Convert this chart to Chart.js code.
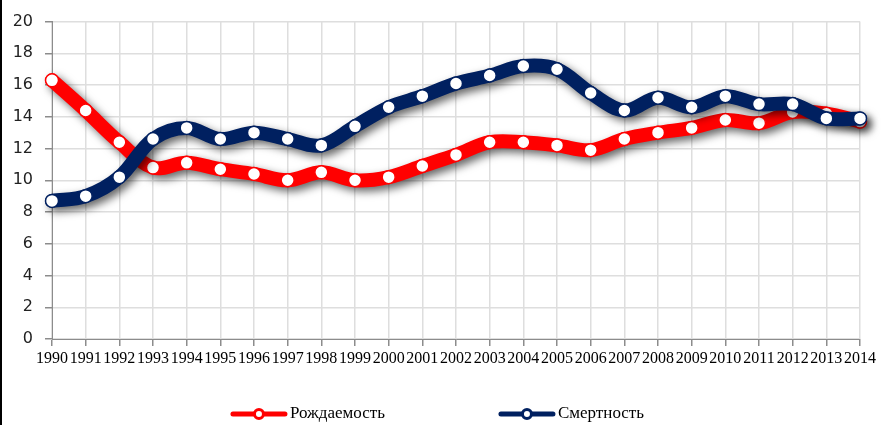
<!DOCTYPE html>
<html>
<head>
<meta charset="utf-8">
<script src="https://cdn.jsdelivr.net/npm/chart.js@4.4.1/dist/chart.umd.min.js"></script>
<style>
  html, body { margin: 0; padding: 0; background: #fff; }
  #wrap { width: 881px; height: 425px; }
</style>
</head>
<body>
<div id="wrap"><canvas id="rateChart" width="881" height="425"></canvas></div>
<script>
const years = ["1990", "1991", "1992", "1993", "1994", "1995", "1996", "1997", "1998", "1999",
  "2000", "2001", "2002", "2003", "2004", "2005", "2006", "2007", "2008", "2009",
  "2010", "2011", "2012", "2013", "2014"];
const birthRate = [16.3, 14.4, 12.4, 10.8, 11.1, 10.7, 10.4, 10.0, 10.5, 10.0,
  10.2, 10.9, 11.6, 12.4, 12.4, 12.2, 11.9, 12.6, 13.0, 13.3,
  13.8, 13.6, 14.3, 14.2, 13.7];
const deathRate = [8.7, 9.0, 10.2, 12.6, 13.3, 12.6, 13.0, 12.6, 12.2, 13.4,
  14.6, 15.3, 16.1, 16.6, 17.2, 17.0, 15.5, 14.4, 15.2, 14.6,
  15.3, 14.8, 14.8, 13.9, 13.9];
const seriesNames = ["Рождаемость", "Смертность"];
const seriesColors = ["#ff0000", "#002060"];
const yMin = 0, yMax = 20, yStep = 2;

// тень под линиями (точки рисуем уже без тени)
const lineShadow = {
  id: "lineShadow",
  beforeDatasetDraw(chart, args) {
    const ctx = chart.ctx;
    const area = chart.chartArea;
    ctx.save();
    ctx.shadowColor = "rgba(0,0,0,0.6)";
    ctx.shadowBlur = 9;
    ctx.shadowOffsetX = 4;
    ctx.shadowOffsetY = 4;
    args.meta.dataset.draw(ctx, area);
    ctx.restore();
    args.meta.data.forEach(p => p.draw(ctx, area));
    return false;
  }
};

// рамка слева и легенда внизу
const frameAndLegend = {
  id: "frameAndLegend",
  afterDraw(chart) {
    const ctx = chart.ctx;
    ctx.save();
    ctx.fillStyle = "#000";
    ctx.fillRect(0, 0, 2, chart.height);

    ctx.font = "17px 'Liberation Serif', 'DejaVu Serif', serif";
    ctx.textBaseline = "middle";
    const lineLen = 56, textGap = 3, itemGap = 114;
    const widths = seriesNames.map(n => lineLen + textGap + ctx.measureText(n).width);
    const total = widths.reduce((a, b) => a + b, 0) + itemGap * (widths.length - 1);
    let x = (chart.width - total) / 2 - 3;
    const y = 414;
    seriesNames.forEach((name, i) => {
      ctx.strokeStyle = seriesColors[i];
      ctx.lineWidth = 5;
      ctx.lineCap = "round";
      ctx.beginPath();
      ctx.moveTo(x + 2, y);
      ctx.lineTo(x + lineLen - 2, y);
      ctx.stroke();
      ctx.beginPath();
      ctx.arc(x + lineLen / 2, y, 4.5, 0, Math.PI * 2);
      ctx.fillStyle = "#fff";
      ctx.fill();
      ctx.lineWidth = 3;
      ctx.stroke();
      ctx.fillStyle = "#000";
      ctx.fillText(name, x + lineLen + textGap, y);
      x += widths[i] + itemGap;
    });
    ctx.restore();
  }
};

const ctx = document.getElementById("rateChart").getContext("2d");

new Chart(ctx, {
  type: "line",
  data: {
    labels: years,
    datasets: [
      {
        label: seriesNames[0],
        data: birthRate,
        borderColor: seriesColors[0],
        order: 1
      },
      {
        label: seriesNames[1],
        data: deathRate,
        borderColor: seriesColors[1],
        order: 0
      }
    ].map(ds => Object.assign(ds, {
      borderWidth: 14,
      tension: 0.35,
      borderCapStyle: "round",
      borderJoinStyle: "round",
      pointRadius: 6.5,
      pointBorderWidth: 1.5,
      pointBackgroundColor: "#fff",
      pointBorderColor: ds.borderColor,
      fill: false
    }))
  },
  options: {
    responsive: false,
    animation: false,
    layout: { padding: { left: 0, top: 13, right: 21, bottom: 56 } },
    plugins: {
      legend: { display: false },
      tooltip: { enabled: false }
    },
    scales: {
      x: {
        grid: { color: "#dedede", lineWidth: 1.5, tickColor: "#8c8c8c", tickLength: 7 },
        border: { color: "#8c8c8c", width: 1 },
        ticks: {
          autoSkip: false,
          maxRotation: 0,
          padding: 3,
          color: "#000",
          font: { family: "'Liberation Serif', serif", size: 16 }
        },
        afterFit: s => { s.height = 30; }
      },
      y: {
        min: yMin,
        max: yMax,
        grid: { color: "#dedede", lineWidth: 1.5, tickColor: "#8c8c8c", tickLength: 7 },
        border: { color: "#8c8c8c", width: 1 },
        ticks: {
          stepSize: yStep,
          padding: 12,
          color: "#222",
          font: { family: "'DejaVu Sans', sans-serif", size: 16 }
        },
        afterFit: s => { s.width = 52; }
      }
    }
  },
  plugins: [lineShadow, frameAndLegend]
});
</script>
</body>
</html>
